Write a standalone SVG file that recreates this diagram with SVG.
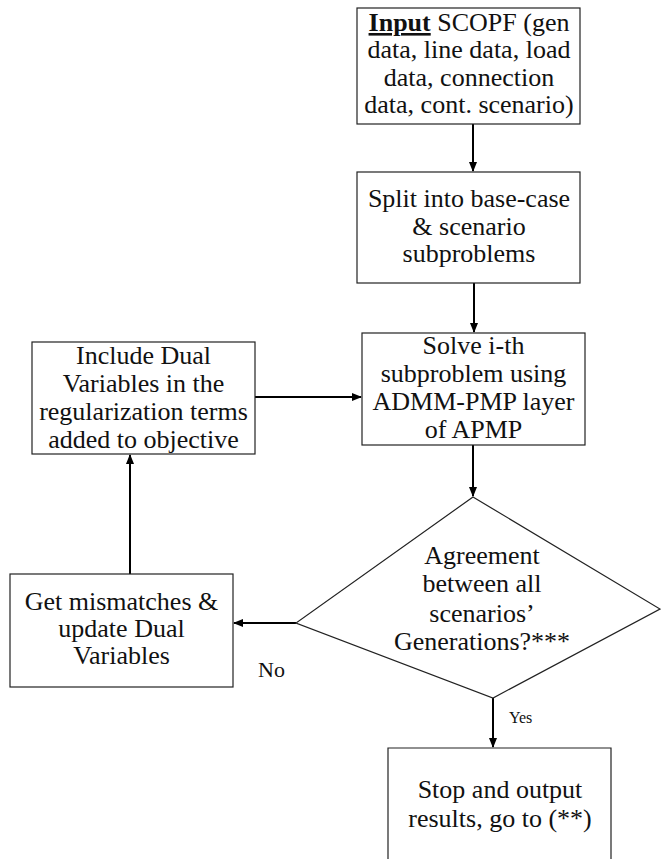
<svg xmlns="http://www.w3.org/2000/svg" width="661" height="859" viewBox="0 0 661 859">
<style>
.box{fill:#fff;stroke:#222;stroke-width:1.2}
.t{font-size:26px;fill:#111;text-anchor:middle}
.lbl{fill:#111}
.c{stroke:#000;stroke-width:2;fill:none;marker-end:url(#ah)}
</style>
<defs>
<marker id="ah" markerUnits="userSpaceOnUse" markerWidth="10" markerHeight="8" refX="9" refY="4" orient="auto">
<path d="M0,0 L10,4 L0,8 z" fill="#000"/>
</marker>
</defs>
<rect width="661" height="859" fill="#fff"/>
<g id="connectors">
<line class="c" x1="473" y1="124" x2="473" y2="171"/>
<line class="c" x1="474" y1="283" x2="474" y2="332"/>
<line class="c" x1="473" y1="445" x2="473" y2="496"/>
<line class="c" x1="296" y1="623" x2="234" y2="623"/>
<line class="c" x1="130" y1="574" x2="130" y2="455"/>
<line class="c" x1="255" y1="397" x2="361" y2="397"/>
<line class="c" x1="493" y1="698" x2="493" y2="747"/>
</g>
<g font-family="'Liberation Serif', 'DejaVu Serif', serif">
<g id="input">
<rect class="box" x="357" y="8" width="223" height="116"/>
<text class="t" x="469" y="31"><tspan font-weight="bold" text-decoration="underline">Input</tspan> SCOPF (gen</text>
<text class="t" x="469" y="58">data, line data, load</text>
<text class="t" x="469" y="85.5">data, connection</text>
<text class="t" x="469" y="113">data, cont. scenario)</text>
</g>
<g id="split">
<rect class="box" x="357" y="172" width="223" height="111"/>
<text class="t" x="469" y="207">Split into base-case</text>
<text class="t" x="469" y="234.5">&amp; scenario</text>
<text class="t" x="469" y="262">subproblems</text>
</g>
<g id="solve">
<rect class="box" x="362" y="333" width="223" height="112"/>
<text class="t" x="473.5" y="353.5">Solve i-th</text>
<text class="t" x="473.5" y="382">subproblem using</text>
<text class="t" x="473.5" y="410">ADMM-PMP layer</text>
<text class="t" x="473.5" y="437.5">of APMP</text>
</g>
<g id="include">
<rect class="box" x="32" y="342" width="223" height="112"/>
<text class="t" x="143.5" y="363.5">Include Dual</text>
<text class="t" x="143.5" y="391.5">Variables in the</text>
<text class="t" x="143.5" y="419.5">regularization terms</text>
<text class="t" x="143.5" y="447.5">added to objective</text>
</g>
<g id="decision">
<polygon class="box" points="473,497 660,609 493,698 296,623"/>
<text class="t" x="482" y="563.5">Agreement</text>
<text class="t" x="482" y="592">between all</text>
<text class="t" x="482" y="621.5">scenarios’</text>
<text class="t" x="482" y="650">Generations?***</text>
</g>
<g id="mismatch">
<rect class="box" x="10" y="574" width="223" height="113"/>
<text class="t" x="121.5" y="610">Get mismatches &amp;</text>
<text class="t" x="121.5" y="637">update Dual</text>
<text class="t" x="121.5" y="663.5">Variables</text>
</g>
<g id="stop">
<path class="box" d="M388,865 V748 H611 V865"/>
<text class="t" x="500" y="798">Stop and output</text>
<text class="t" x="500" y="826.5">results, go to (**)</text>
</g>
<g id="labels">
<text class="lbl" x="258" y="677" font-size="22">No</text>
<text class="lbl" x="509" y="723" font-size="16">Yes</text>
</g>
</g>
</svg>
